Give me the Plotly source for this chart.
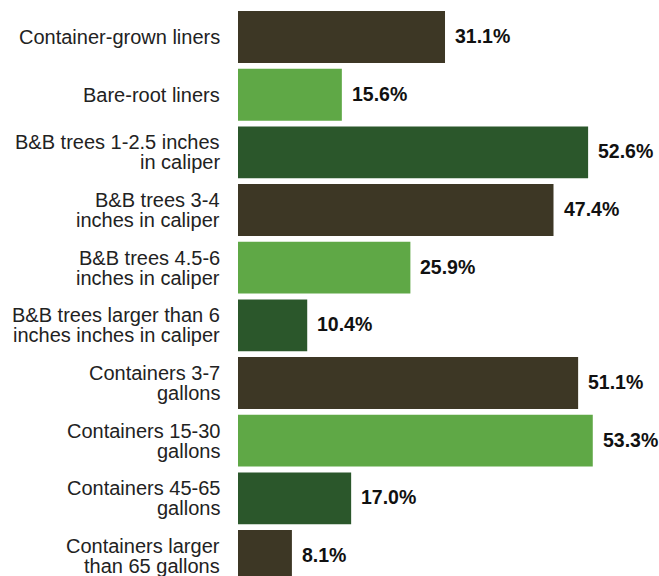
import plotly.graph_objects as go

categories = [
    "Container-grown liners",
    "Bare-root liners",
    "B&B trees 1-2.5 inches<br>in caliper",
    "B&B trees 3-4<br>inches in caliper",
    "B&B trees 4.5-6<br>inches in caliper",
    "B&B trees larger than 6<br>inches inches in caliper",
    "Containers 3-7<br>gallons",
    "Containers 15-30<br>gallons",
    "Containers 45-65<br>gallons",
    "Containers larger<br>than 65 gallons",
]
values = [31.1, 15.6, 52.6, 47.4, 25.9, 10.4, 51.1, 53.3, 17.0, 8.1]
palette = ["#3d3725", "#5fa846", "#2b572b"]
colors = [palette[i % 3] for i in range(len(values))]

FONT = "Liberation Sans, Arial"

fig = go.Figure(go.Bar(
    x=values, y=categories, orientation="h",
    marker=dict(color=colors, line=dict(width=0)),
    hoverinfo="skip",
))
for c, v in zip(categories, values):
    fig.add_annotation(x=v, y=c, text=f"<b>{v:.1f}%</b>", showarrow=False,
                       xanchor="left", xshift=9, yshift=1, borderpad=0,
                       font=dict(size=19.5, color="#111111", family=FONT))
    lines = c.split("<br>")
    n = len(lines)
    for k, line in enumerate(lines):
        shift = (n - 1) / 2 * 20 - k * 20
        fig.add_annotation(x=0, y=c, text=line, showarrow=False,
                           xanchor="right", xshift=-16, yshift=shift,
                           font=dict(size=20, color="#222222", family=FONT))

fig.update_layout(
    width=659, height=576,
    margin=dict(l=238, r=0, t=0, b=0),
    plot_bgcolor="white", paper_bgcolor="white",
    bargap=0.1, showlegend=False,
    font=dict(family=FONT, size=20, color="#222222"),
)
fig.update_xaxes(range=[0, 63.25], visible=False, fixedrange=True)
fig.update_yaxes(range=[9.347, -0.642], showgrid=False, zeroline=False, showline=False,
                 ticks="", showticklabels=False, fixedrange=True)
fig.write_html("out.html")
